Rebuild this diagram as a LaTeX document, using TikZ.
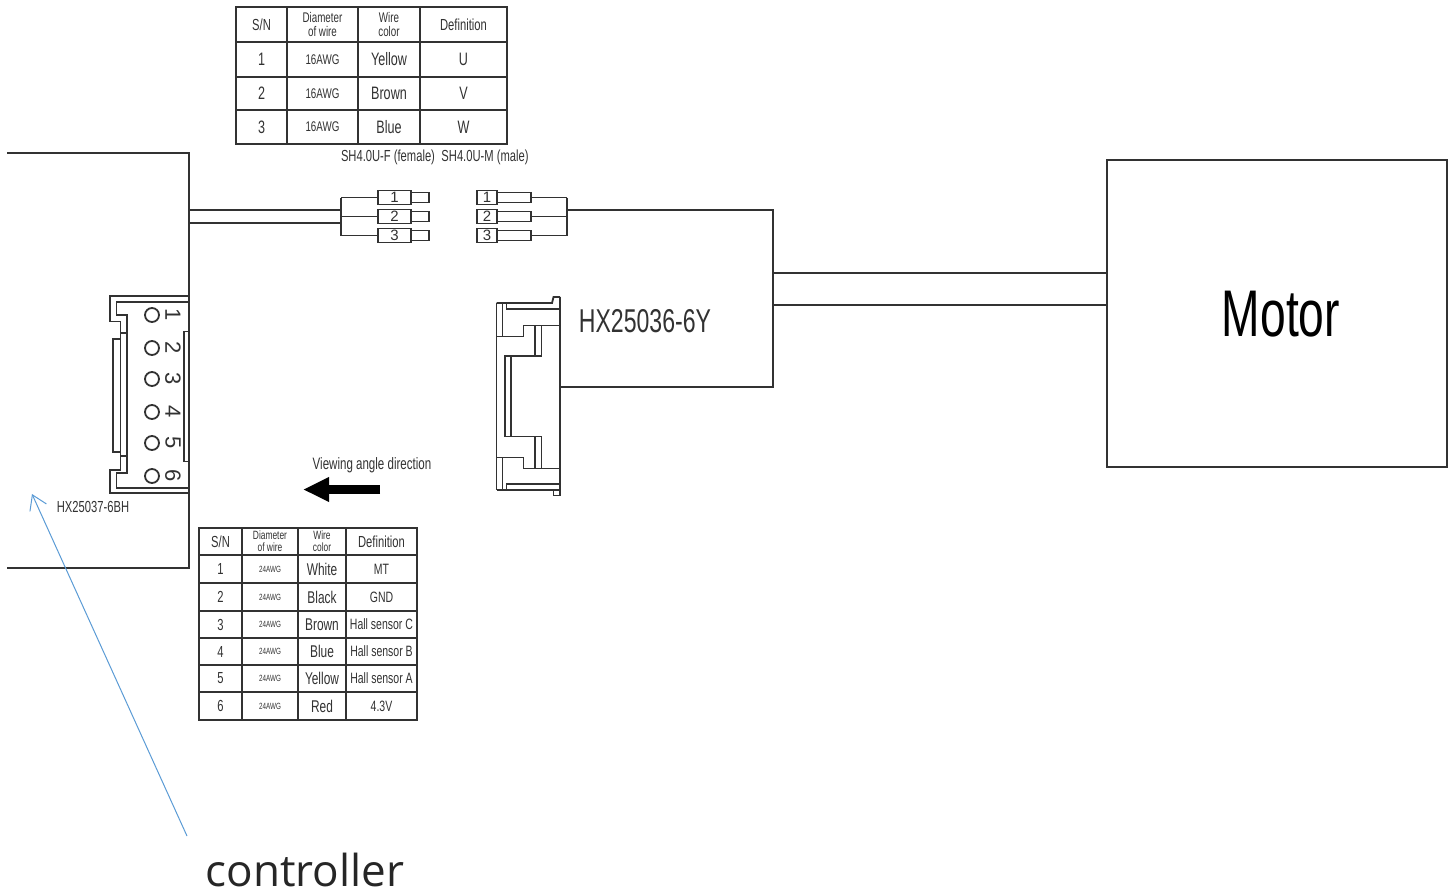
\documentclass[tikz,border=0pt]{standalone}
\usepackage{fontspec}
\usepackage{xcolor}
\usetikzlibrary{arrows.meta}
\setmainfont{Liberation Sans}
\newfontfamily\narrowfont[FakeStretch=0.7]{Liberation Sans}
\newfontfamily\noteFont{Open Sans}
\definecolor{wiregray}{RGB}{50,50,50}
\definecolor{noteblue}{RGB}{91,155,213}
\tikzset{
  wire/.style={draw=wiregray, line width=1.8pt},
  cell/.style={draw=wiregray, line width=1.8pt, inner sep=0pt, outer sep=0pt, anchor=north west, align=center, text=wiregray},
  headtext/.style={font=\narrowfont\fontsize{16}{16}\selectfont},
  twolinetext/.style={font=\narrowfont\fontsize{14}{14}\selectfont},
  tighttext/.style={font=\narrowfont\fontsize{12}{12}\selectfont},
  bodytext/.style={font=\narrowfont\fontsize{18}{18}\selectfont},
  tinytext/.style={font=\narrowfont\fontsize{14}{14}\selectfont},
  microtext/.style={font=\narrowfont\fontsize{9}{9}\selectfont},
  smalllabel/.style={font=\narrowfont\fontsize{16}{16}\selectfont, text=wiregray, inner sep=0pt},
  housing/.style={draw=wiregray, line width=1.8pt, inner sep=0pt, outer sep=0pt, minimum height=14pt, font=\fontsize{15}{15}\selectfont, text=wiregray},
  pinbox/.style={draw=wiregray, line width=1.8pt, inner sep=0pt, outer sep=0pt, minimum height=10pt},
  pincircle/.style={circle, draw=wiregray, line width=1.8pt, inner sep=0pt, outer sep=0pt, minimum size=14pt},
  pinnum/.style={rotate=-90, inner sep=0pt, text=wiregray, font=\fontsize{22}{22}\selectfont}
}
\begin{document}
\begin{tikzpicture}[x=1pt,y=-1pt]
\useasboundingbox (0,0) rectangle (1455,895);

% Wire table of the motor phases
\node[cell, headtext, minimum width=51pt, minimum height=35pt] (phasesn) at (236,7) {S/N};
\node[cell, twolinetext, minimum width=71pt, minimum height=35pt] (phasedia) at (287,7) {Diameter\\of wire};
\node[cell, twolinetext, minimum width=62pt, minimum height=35pt] (phaseclr) at (358,7) {Wire\\color};
\node[cell, headtext, minimum width=87pt, minimum height=35pt] (phasefn) at (420,7) {Definition};
\foreach \n/\ya/\rowh/\clr/\fn in {1/42/35/Yellow/U, 2/77/33/Brown/V, 3/110/34/Blue/W} {
  \node[cell, bodytext, minimum width=51pt, minimum height=\rowh pt] (phasesn\n) at (236,\ya) {\n};
  \node[cell, tinytext, minimum width=71pt, minimum height=\rowh pt] (phasedia\n) at (287,\ya) {16AWG};
  \node[cell, bodytext, minimum width=62pt, minimum height=\rowh pt] (phaseclr\n) at (358,\ya) {\clr};
  \node[cell, bodytext, minimum width=87pt, minimum height=\rowh pt] (phasefn\n) at (420,\ya) {\fn};
}
\node[smalllabel] (femalelabel) at (388,157) {SH4.0U-F (female)};
\node[smalllabel] (malelabel) at (485,157) {SH4.0U-M (male)};

% Controller body
\draw[wire] (7,153) -- (189,153) -- (189,568) -- (7,568);

% Socket on the controller
\draw[wire] (189,296) -- (110,296) -- (110,321.5) -- (120.5,321.5) -- (120.5,470) -- (110,470) -- (110,493) -- (189,493);
\draw[wire] (189,302) -- (116.5,302) -- (116.5,315) -- (127,315) -- (127,473) -- (116.5,473) -- (116.5,488) -- (189,488);
\draw[wire] (120.5,339) -- (113,339) -- (113,452) -- (120.5,452);
\draw[wire] (120.5,333) -- (127,333);
\draw[wire] (120.5,456) -- (127,456);
\draw[wire] (189,331.5) -- (184,331.5) -- (184,461.5) -- (189,461.5);
\foreach \n/\y in {1/315, 2/348, 3/379, 4/412, 5/443, 6/476} {
  \node[pincircle] (socketpin\n) at (152,\y) {};
  \node[pinnum] (socketnum\n) at (173,\y) {\n};
}
\node[smalllabel] (socketlabel) at (93,507) {HX25037-6BH};

% Power plugs
\coordinate (femalew1) at (341,210);
\coordinate (femalew2) at (341,223);
\coordinate (ctrlw1) at (189,210);
\coordinate (ctrlw2) at (189,223);
\draw[wire] (ctrlw1) -- (femalew1);
\draw[wire] (ctrlw2) -- (femalew2);
\coordinate (femaletop) at (341,197.5);
\coordinate (femalebot) at (341,235.5);
\draw[wire] (femaletop) -- (femalebot);
\coordinate (maletop) at (567,197.5);
\coordinate (malebot) at (567,235.5);
\draw[wire] (maletop) -- (malebot);
\foreach \n/\y in {1/197.5, 2/216.5, 3/235.5} {
  \node[housing, minimum width=33pt] (femalebox\n) at (394.5,\y) {\n};
  \node[pinbox, minimum width=18pt, anchor=west] (femalepin\n) at (femalebox\n.east) {};
  \node[housing, minimum width=20pt] (malebox\n) at (487,\y) {\n};
  \node[pinbox, minimum width=34pt, anchor=west] (malepin\n) at (malebox\n.east) {};
  \draw[wire] (341,\y) -- (femalebox\n.west);
  \draw[wire] (malepin\n.east) -- (567,\y);
}

% Cable to the motor
\node[draw=wiregray, line width=1.8pt, outer sep=0pt, minimum width=340pt, minimum height=307pt] (motor) at (1277,313.5) {};
\node[inner sep=0pt, font=\narrowfont\fontsize{66}{66}\selectfont, text=black] (motorlabel) at (1281,314) {Motor};
\coordinate (malew) at (567,210);
\coordinate (hxtop) at (773,210);
\coordinate (hxbot) at (773,387);
\coordinate (plugw) at (560,387);
\coordinate (motorw1) at (773,273);
\coordinate (motorw2) at (773,305);
\draw[wire] (malew) -- (hxtop) -- (hxbot) -- (plugw);
\draw[wire] (motorw1) -- (motorw1 -| motor.west);
\draw[wire] (motorw2) -- (motorw2 -| motor.west);
\node[font=\narrowfont\fontsize{33}{33}\selectfont, text=wiregray] (hxlabel) at (645,321) {HX25036-6Y};

% Plug of the cable
\draw[wire] (560,297) -- (560,495.5);
\draw[wire] (496.5,303) -- (496.5,490);
\draw[wire] (502.5,303) -- (502.5,336.5);
\draw[wire] (502.5,457.5) -- (502.5,490);
\draw[wire] (496.5,303) -- (552,303) -- (553.5,297) -- (560,297);
\draw[wire] (506.5,303) -- (506.5,309) -- (560,309);
\draw[wire] (496.5,336.5) -- (523.5,336.5) -- (523.5,325.5) -- (560,325.5);
\draw[wire] (535,325.5) -- (535,356) -- (505,356) -- (505,436.5) -- (535,436.5) -- (535,468);
\draw[wire] (541.5,325.5) -- (541.5,356) -- (511,356) -- (511,436.5) -- (541.5,436.5) -- (541.5,468);
\draw[wire] (496.5,457.5) -- (523.5,457.5) -- (523.5,468.5) -- (560,468.5);
\draw[wire] (506.5,490) -- (506.5,484) -- (560,484);
\draw[wire] (496.5,490) -- (560,490);
\draw[wire] (553.5,490) -- (553.5,495.5) -- (560,495.5);

% Viewing direction
\node[smalllabel, font=\narrowfont\fontsize{16.5}{16.5}\selectfont] (viewlabel) at (372,465) {Viewing angle direction};
\coordinate (viewtail) at (380,489.5);
\coordinate (viewtip) at (303,489.5);
\draw[-{Triangle[length=26pt,width=23pt]}, line width=9pt, black] (viewtail) -- (viewtip);

% Wire table of the signal plug
\node[cell, headtext, minimum width=43pt, minimum height=27pt] (signalsn) at (199,528) {S/N};
\node[cell, tighttext, minimum width=56pt, minimum height=27pt] (signaldia) at (242,528) {Diameter\\of wire};
\node[cell, tighttext, minimum width=48pt, minimum height=27pt] (signalclr) at (298,528) {Wire\\color};
\node[cell, headtext, minimum width=71pt, minimum height=27pt] (signalfn) at (346,528) {Definition};
\foreach \n/\ya/\rowh/\clr/\fn in {1/555/28/White/MT, 2/583/28/Black/GND, 3/611/27/Brown/Hall sensor C, 4/638/27/Blue/Hall sensor B, 5/665/27/Yellow/Hall sensor A, 6/692/28/Red/4.3V} {
  \node[cell, tinytext, font=\narrowfont\fontsize{16}{16}\selectfont, minimum width=43pt, minimum height=\rowh pt] (signalsn\n) at (199,\ya) {\n};
  \node[cell, microtext, minimum width=56pt, minimum height=\rowh pt] (signaldia\n) at (242,\ya) {24AWG};
  \node[cell, tinytext, font=\narrowfont\fontsize{17}{17}\selectfont, minimum width=48pt, minimum height=\rowh pt] (signalclr\n) at (298,\ya) {\clr};
  \node[cell, tinytext, font=\narrowfont\fontsize{15}{15}\selectfont, minimum width=71pt, minimum height=\rowh pt] (signalfn\n) at (346,\ya) {\fn};
}

% Note
\node[inner sep=0pt, font=\noteFont\fontsize{44}{44}\selectfont, text=black!85] (controller) at (305,870) {controller};
\coordinate (notetail) at (187,836);
\coordinate (notetip) at (32,494);
\draw[-{Straight Barb[length=14pt,width=18pt]}, noteblue, line width=1pt] (notetail) -- (notetip);
\end{tikzpicture}
\end{document}
